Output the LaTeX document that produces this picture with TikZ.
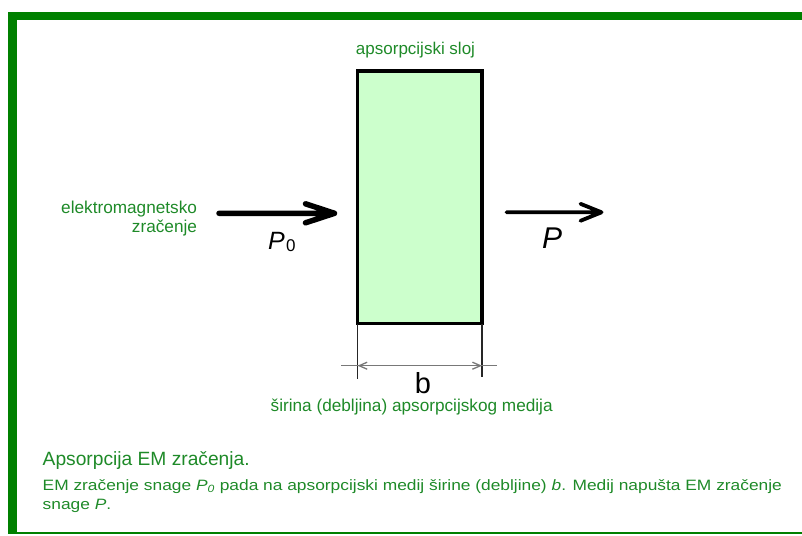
\documentclass[tikz,border=0pt]{standalone}
\usepackage{fontspec}
\setmainfont{Liberation Sans}
\usetikzlibrary{arrows.meta,calc}
\definecolor{framegreen}{RGB}{0,128,0}
\definecolor{txtgreen}{RGB}{30,138,40}
\definecolor{slabfill}{RGB}{204,255,204}
\definecolor{dimgray}{RGB}{120,120,120}
\begin{document}
\begin{tikzpicture}[x=1pt,y=-1pt,
  lbl/.style={inner sep=0pt, outer sep=0pt, text=txtgreen, font=\fontsize{17.2}{20}\selectfont},
  slabbox/.style={draw=black, fill=slabfill, line width=3.5pt, inner sep=0pt, outer sep=0pt, minimum width=124.5pt, minimum height=252.5pt},
  bigarrow/.style={line width=5.5pt, line cap=round, line join=round},
  smallarrow/.style={line width=3.8pt, line cap=round, line join=round},
  extline/.style={line width=1.4pt, draw=black!85},
  dimline/.style={line width=1.3pt, draw=dimgray},
  sym/.style={inner sep=0pt, outer sep=0pt, text=black}]
\useasboundingbox (0,0) rectangle (802,535);
% frame
\fill[framegreen] (8.3,11.7) rectangle (802,20);
\fill[framegreen] (8.3,11.7) rectangle (17.3,534.3);
\fill[framegreen] (8.3,531.8) rectangle (802,534.3);
% slab
\node[slabbox] (slab) at (419.8,197.3) {};
\node[lbl, anchor=base, font=\fontsize{17}{20}\selectfont] (sloj) at (415.5,55) {apsorpcijski sloj};
% incoming
\node[lbl, anchor=base east] (em1) at (197,213.3) {elektromagnetsko};
\node[lbl, anchor=base east] (em2) at (197,232.5) {zračenje};
\coordinate (a1s) at (219,213.3);
\coordinate (a1e) at (334.5,213.3);
\draw[bigarrow] (a1s) -- (a1e) -- +(-29,-9.5) (a1e) -- +(-29,9.5);
\node[sym, anchor=base west] (p0) at (268,249.3) {\fontsize{25}{25}\selectfont\itshape P\hspace{1.5pt}\raisebox{-2pt}{\fontsize{17}{17}\selectfont\upshape 0}};
% outgoing
\coordinate (a2s) at (506.5,212.3);
\coordinate (a2e) at (601.5,212.3);
\draw[smallarrow] (a2s) -- (a2e) -- +(-21,-8.5) (a2e) -- +(-21,8.5);
\node[sym, anchor=base west] (p) at (542,248.3) {\fontsize{30}{30}\selectfont\itshape P};
% dimension
\draw[extline] (slab.south west) -- ++(0,55) coordinate (extL);
\draw[extline] (slab.south east) -- ++(0,53) coordinate (extR);
\coordinate (dL) at (341,365.7);
\coordinate (dR) at (496.7,365.7);
\draw[dimline] (dL) -- (dR);
\draw[dimline, {Straight Barb[length=8pt,width=7pt]}-{Straight Barb[length=8pt,width=7pt]}] (slab.south west |- dL) -- (slab.south east |- dR);
\node[sym, anchor=base] (b) at (423,393.5) {\fontsize{29}{29}\selectfont\raisebox{0pt}[\height][0pt]{b}};
\node[lbl, anchor=base east] (sirina) at (552.7,411.7) {širina (debljina) apsorpcijskog medija};
% caption
\node[lbl, anchor=base west, font=\fontsize{19.2}{22}\selectfont] (cap1) at (42.7,465) {Apsorpcija EM zračenja.};
\node[lbl, anchor=base west, font=\fontsize{15}{18}\selectfont] (cap2) at (42.7,490) {\scalebox{1.157}[1]{EM zračenje snage \textit{P}\textsubscript{\textit{0}} pada na apsorpcijski medij širine (debljine) \textit{b}. Medij napušta EM zračenje}};
\node[lbl, anchor=base west, font=\fontsize{15}{18}\selectfont] (cap3) at (42.7,509.3) {\scalebox{1.157}[1]{snage \textit{P}.}};
\end{tikzpicture}
\end{document}
